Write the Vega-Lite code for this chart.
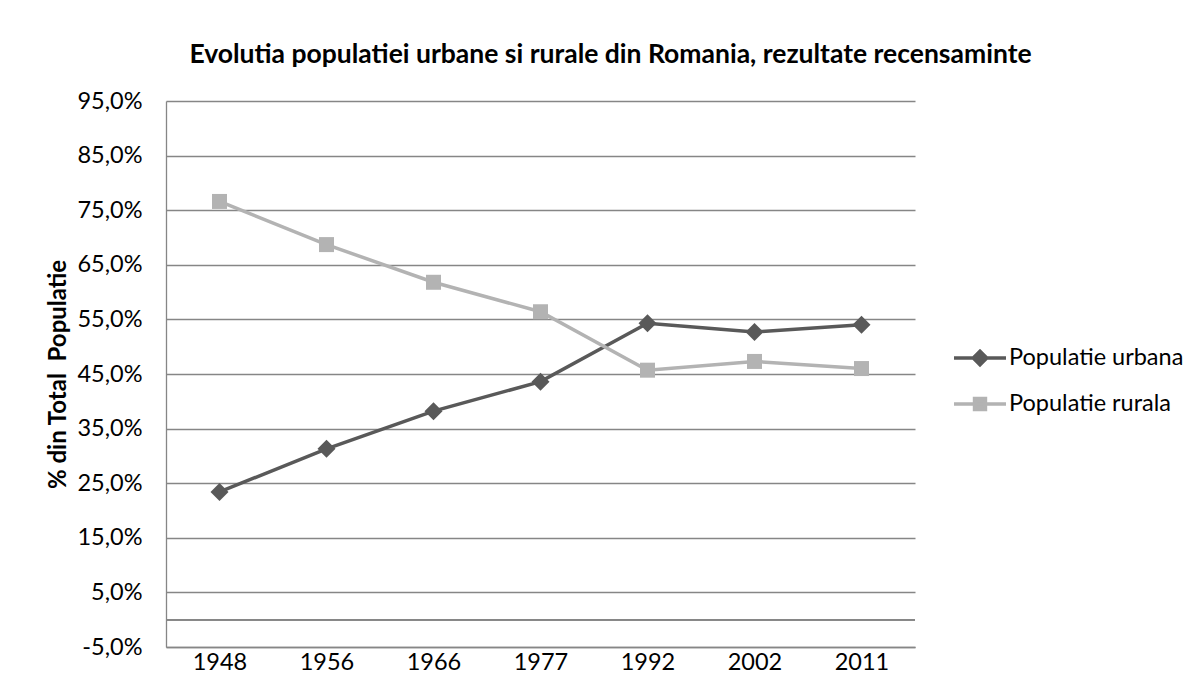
{
  "$schema": "https://vega.github.io/schema/vega-lite/v6.json",
  "autosize": "none",
  "width": 749,
  "height": 546,
  "padding": {"left": 166, "top": 101, "right": 286, "bottom": 32},
  "background": "white",
  "config": {
    "view": {"stroke": null},
    "font": "Lato",
    "axis": {"labelFont": "Lato", "titleFont": "Lato", "labelColor": "#000000", "titleColor": "#000000"},
    "legend": {"labelFont": "Lato"}
  },
  "title": {
    "text": "Evolutia populatiei urbane si rurale din Romania, rezultate recensaminte",
    "font": "Lato",
    "fontSize": 26.5,
    "fontWeight": "bold",
    "color": "#000000",
    "anchor": "middle",
    "dx": 70,
    "offset": 21
  },
  "data": {
    "values": [
      {"year": "1948", "series": "Populatie urbana", "value": 23.4},
      {"year": "1956", "series": "Populatie urbana", "value": 31.3},
      {"year": "1966", "series": "Populatie urbana", "value": 38.2},
      {"year": "1977", "series": "Populatie urbana", "value": 43.6},
      {"year": "1992", "series": "Populatie urbana", "value": 54.3},
      {"year": "2002", "series": "Populatie urbana", "value": 52.7},
      {"year": "2011", "series": "Populatie urbana", "value": 54.0},
      {"year": "1948", "series": "Populatie rurala", "value": 76.6},
      {"year": "1956", "series": "Populatie rurala", "value": 68.7},
      {"year": "1966", "series": "Populatie rurala", "value": 61.8},
      {"year": "1977", "series": "Populatie rurala", "value": 56.4},
      {"year": "1992", "series": "Populatie rurala", "value": 45.7},
      {"year": "2002", "series": "Populatie rurala", "value": 47.3},
      {"year": "2011", "series": "Populatie rurala", "value": 46.0}
    ]
  },
  "encoding": {
    "x": {
      "field": "year",
      "type": "ordinal",
      "sort": null,
      "scale": {"type": "point", "padding": 0.5},
      "axis": {
        "title": null,
        "labelAngle": 0,
        "labelFontSize": 23.5,
        "labelPadding": 3,
        "tickSize": 0,
        "ticks": false,
        "domainColor": "#868686",
        "domainWidth": 1.3,
        "grid": false
      }
    },
    "y": {
      "field": "value",
      "type": "quantitative",
      "scale": {"domain": [-5, 95], "nice": false, "zero": false},
      "axis": {
        "title": "% din Total \u00a0Populatie",
        "titleFontSize": 24,
        "titleFontWeight": "bold",
        "titlePadding": 6,
        "values": [-5, 5, 15, 25, 35, 45, 55, 65, 75, 85, 95],
        "labelExpr": "replace(replace(format(datum.value, '.1f'), '.', ','), '\u2212', '-') + '%'",
        "labelFontSize": 23.5,
        "labelPadding": 24,
        "tickSize": 0,
        "ticks": false,
        "grid": true,
        "gridColor": "#868686",
        "gridWidth": 1.3,
        "domainColor": "#868686",
        "domainWidth": 1.3
      }
    }
  },
  "layer": [
    {
      "mark": {"type": "rule", "color": "#868686", "strokeWidth": 1.3},
      "encoding": {"x": null, "y": {"datum": 0}}
    },
    {
      "mark": {"type": "line", "strokeWidth": 3.5},
      "encoding": {
        "color": {
          "field": "series",
          "type": "nominal",
          "scale": {"domain": ["Populatie urbana", "Populatie rurala"], "range": ["#595959", "#b3b3b3"]},
          "legend": {
            "title": null,
            "orient": "none",
            "legendX": 786,
            "legendY": 229,
            "labelFontSize": 23.5,
            "labelColor": "#000000",
            "labelOffset": 1,
            "labelLimit": 400,
            "rowPadding": 4,
            "symbolSize": 2704,
            "symbolStrokeWidth": 3.5,
            "encode": {
              "symbols": {
                "update": {
                  "shape": {"signal": "datum.value === 'Populatie urbana' ? 'M-1,0H1M0,-0.26L0.26,0L0,0.26L-0.26,0Z' : 'M-1,0H1M-0.21,-0.21H0.21V0.21H-0.21Z'"},
                  "fill": {"scale": "color", "field": "value"},
                  "stroke": {"scale": "color", "field": "value"},
                  "strokeWidth": {"value": 3.5},
                  "opacity": {"value": 1}
                }
              }
            }
          }
        }
      }
    },
    {
      "transform": [{"filter": "datum.series === 'Populatie urbana'"}],
      "mark": {"type": "point", "filled": true, "opacity": 1, "shape": "diamond", "size": 324},
      "encoding": {
        "color": {"field": "series", "type": "nominal", "legend": null}
      }
    },
    {
      "transform": [{"filter": "datum.series === 'Populatie rurala'"}],
      "mark": {"type": "point", "filled": true, "opacity": 1, "shape": "square", "size": 225},
      "encoding": {
        "color": {"field": "series", "type": "nominal", "legend": null}
      }
    }
  ]
}
